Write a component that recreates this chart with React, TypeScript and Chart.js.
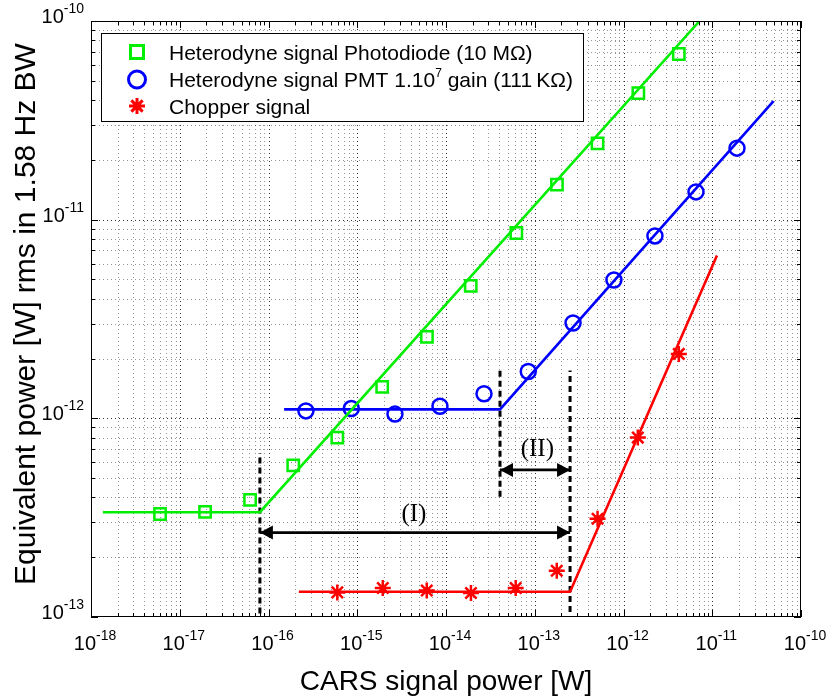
import React, { useEffect, useRef } from 'react';
import { Chart, registerables } from 'chart.js';

Chart.register(...registerables);

const CANVAS_W = 827;
const CANVAS_H = 698;

const GREEN = '#00ee00';
const BLUE = '#0000ff';
const RED = '#ff0000';
const SANS = '"Liberation Sans", Arial, Helvetica, sans-serif';
const SERIF = '"Liberation Serif", "Times New Roman", serif';

// Heterodyne detection, photodiode (10 MΩ)
const photodiodeX = [6.0e-18, 1.93e-17, 6.2e-17, 1.9e-16, 5.96e-16, 1.91e-15, 6.1e-15, 1.9e-14, 6.2e-14, 1.78e-13, 5.1e-13, 1.47e-12, 4.2e-12];
const photodiodeY = [3.3e-13, 3.38e-13, 3.89e-13, 5.8e-13, 8.0e-13, 1.44e-12, 2.57e-12, 4.64e-12, 8.57e-12, 1.5e-11, 2.42e-11, 4.33e-11, 6.82e-11];
const photodiodeFitX = [1.36e-18, 8e-17, 7.2e-12];
const photodiodeFitY = [3.37e-13, 3.37e-13, 1e-10];

// Heterodyne detection, PMT 1.10^7 gain (111 KΩ)
const pmtX = [2.64e-16, 8.57e-16, 2.66e-15, 8.55e-15, 2.68e-14, 8.45e-14, 2.7e-13, 7.8e-13, 2.26e-12, 6.56e-12, 1.9e-11];
const pmtY = [1.09e-12, 1.12e-12, 1.05e-12, 1.15e-12, 1.33e-12, 1.72e-12, 3.02e-12, 4.97e-12, 8.28e-12, 1.38e-11, 2.29e-11];
const pmtFitX = [1.5e-16, 4.06e-14, 4.9e-11];
const pmtFitY = [1.11e-12, 1.11e-12, 3.95e-11];

// Direct detection with a chopper
const chopperX = [5.96e-16, 1.94e-15, 6.07e-15, 1.91e-14, 6.1e-14, 1.77e-13, 5.1e-13, 1.45e-12, 4.2e-12];
const chopperY = [1.33e-13, 1.4e-13, 1.36e-13, 1.32e-13, 1.4e-13, 1.71e-13, 3.12e-13, 8.0e-13, 2.11e-12];
const chopperFitX = [2.2e-16, 2.5e-13, 1.13e-11];
const chopperFitY = [1.34e-13, 1.34e-13, 6.6e-12];

// Dashed markers at the detection limits
const limitX = [8e-17, 4.06e-14, 2.5e-13];
const limitLow = [1.04e-13, 4.03e-13, 1.06e-13];
const limitHigh = [6.7e-13, 1.75e-12, 1.74e-12];

// Dynamic-range arrows (I) and (II)
const rangeNames = ['(I)', '(II)'];
const rangeFrom = [8e-17, 4.06e-14];
const rangeTo = [2.5e-13, 2.5e-13];
const rangeLevel = [2.66e-13, 5.5e-13];
const rangeLabelX = [4.35e-15, 1.07e-13];
const rangeLabelY = [3.3e-13, 7.0e-13];

// Axis decades
const xDecades = [-18, -17, -16, -15, -14, -13, -12, -11, -10];
const yDecades = [-13, -12, -11, -10];

const legendLabels = [
  ['Heterodyne signal Photodiode (10 M\u03A9)'],
  ['Heterodyne signal PMT 1.10', '7', ' gain (111\u2009K\u03A9)'],
  ['Chopper signal'],
];

const xTitle = 'CARS signal power [W]';
const yTitle = 'Equivalent power [W] rms in 1.58 Hz BW';

const toPoints = (xs: number[], ys: number[]) => xs.map((x, i) => ({ x, y: ys[i] }));

function minorValues(decades: number[]) {
  const out: number[] = [];
  for (let i = 0; i < decades.length - 1; i++) {
    for (let m = 2; m <= 9; m++) out.push(m * Math.pow(10, decades[i]));
  }
  return out;
}

function drawMarker(ctx: CanvasRenderingContext2D, kind: string, x: number, y: number, r: number, color: string, lw: number) {
  ctx.save();
  ctx.strokeStyle = color;
  ctx.lineWidth = lw;
  ctx.beginPath();
  if (kind === 'rect') {
    ctx.rect(x - r, y - r, 2 * r, 2 * r);
  } else if (kind === 'circle') {
    ctx.arc(x, y, r, 0, Math.PI * 2);
  } else {
    for (let k = 0; k < 4; k++) {
      const a = (k * Math.PI) / 4;
      ctx.moveTo(x - r * Math.cos(a), y - r * Math.sin(a));
      ctx.lineTo(x + r * Math.cos(a), y + r * Math.sin(a));
    }
  }
  ctx.stroke();
  ctx.restore();
}

// "10" with a superscript exponent
function powerLabel(ctx: CanvasRenderingContext2D, exp: number, x: number, baseline: number, align: 'center' | 'right') {
  const base = '10';
  const sup = String(exp);
  ctx.font = `20px ${SANS}`;
  const wb = ctx.measureText(base).width;
  ctx.font = `14px ${SANS}`;
  const ws = ctx.measureText(sup).width;
  const total = wb + ws;
  const left = align === 'center' ? x - total / 2 : x - total;
  ctx.textAlign = 'left';
  ctx.textBaseline = 'alphabetic';
  ctx.font = `20px ${SANS}`;
  ctx.fillText(base, left, baseline);
  ctx.font = `14px ${SANS}`;
  ctx.fillText(sup, left + wb, baseline - 10);
}

const framePlugin = {
  id: 'frame',
  beforeDatasetsDraw(chart: any) {
    const { ctx, chartArea: a, scales } = chart;
    const xs = scales.x;
    const ys = scales.y;
    ctx.save();
    ctx.fillStyle = '#ffffff';
    ctx.fillRect(a.left, a.top, a.right - a.left, a.bottom - a.top);
    ctx.lineWidth = 1;
    ctx.setLineDash([1, 3]);
    const vline = (v: number) => {
      const px = Math.round(xs.getPixelForValue(v)) + 0.5;
      ctx.beginPath();
      ctx.moveTo(px, a.top);
      ctx.lineTo(px, a.bottom);
      ctx.stroke();
    };
    const hline = (v: number) => {
      const py = Math.round(ys.getPixelForValue(v)) + 0.5;
      ctx.beginPath();
      ctx.moveTo(a.left, py);
      ctx.lineTo(a.right, py);
      ctx.stroke();
    };
    ctx.strokeStyle = 'rgba(0,0,0,0.42)';
    minorValues(xDecades).forEach(vline);
    minorValues(yDecades).forEach(hline);
    ctx.strokeStyle = 'rgba(0,0,0,0.8)';
    xDecades.slice(1, -1).forEach((e) => vline(Math.pow(10, e)));
    yDecades.slice(1, -1).forEach((e) => hline(Math.pow(10, e)));
    ctx.restore();
  },
  afterDatasetsDraw(chart: any) {
    const { ctx, chartArea: a, scales } = chart;
    const xs = scales.x;
    const ys = scales.y;
    ctx.save();

    // arrowheads and range labels
    ctx.fillStyle = '#000';
    const head = (tip: number, y: number, dir: number) => {
      ctx.beginPath();
      ctx.moveTo(tip, y);
      ctx.lineTo(tip - dir * 13, y - 7);
      ctx.lineTo(tip - dir * 13, y + 7);
      ctx.closePath();
      ctx.fill();
    };
    rangeNames.forEach((name, i) => {
      const y = ys.getPixelForValue(rangeLevel[i]);
      head(xs.getPixelForValue(rangeFrom[i]), y, -1);
      head(xs.getPixelForValue(rangeTo[i]), y, 1);
      ctx.font = `25px ${SERIF}`;
      ctx.textAlign = 'center';
      ctx.textBaseline = 'middle';
      ctx.fillText(name, xs.getPixelForValue(rangeLabelX[i]), ys.getPixelForValue(rangeLabelY[i]));
    });

    // axes box
    ctx.strokeStyle = '#000';
    ctx.lineWidth = 1;
    ctx.strokeRect(a.left + 0.5, a.top + 0.5, a.right - a.left - 1, a.bottom - a.top - 1);

    // inward tick marks on all sides
    const tickX = (v: number, len: number) => {
      const px = Math.round(xs.getPixelForValue(v)) + 0.5;
      ctx.beginPath();
      ctx.moveTo(px, a.bottom);
      ctx.lineTo(px, a.bottom - len);
      ctx.moveTo(px, a.top);
      ctx.lineTo(px, a.top + len);
      ctx.stroke();
    };
    const tickY = (v: number, len: number) => {
      const py = Math.round(ys.getPixelForValue(v)) + 0.5;
      ctx.beginPath();
      ctx.moveTo(a.left, py);
      ctx.lineTo(a.left + len, py);
      ctx.moveTo(a.right, py);
      ctx.lineTo(a.right - len, py);
      ctx.stroke();
    };
    minorValues(xDecades).forEach((v) => tickX(v, 4));
    minorValues(yDecades).forEach((v) => tickY(v, 4));
    xDecades.forEach((e) => tickX(Math.pow(10, e), 7));
    yDecades.forEach((e) => tickY(Math.pow(10, e), 7));

    // tick labels
    ctx.fillStyle = '#000';
    xDecades.forEach((e) => powerLabel(ctx, e, xs.getPixelForValue(Math.pow(10, e)) + 4, a.bottom + 33, 'center'));
    yDecades.forEach((e) => powerLabel(ctx, e, a.left - 7, ys.getPixelForValue(Math.pow(10, e)) + 2, 'right'));

    // axis titles
    ctx.textAlign = 'center';
    ctx.textBaseline = 'alphabetic';
    ctx.font = `28px ${SANS}`;
    ctx.fillText(xTitle, 446, 690);
    ctx.save();
    ctx.font = `30px ${SANS}`;
    ctx.translate(35, 314);
    ctx.rotate(-Math.PI / 2);
    ctx.fillText(yTitle, 0, 0);
    ctx.restore();

    // legend
    const bx = 101, by = 33, bw = 482, bh = 88;
    ctx.fillStyle = '#fff';
    ctx.fillRect(bx, by, bw, bh);
    ctx.strokeStyle = '#000';
    ctx.lineWidth = 1;
    ctx.strokeRect(bx + 0.5, by + 0.5, bw, bh);
    const rows = [52, 79.5, 106];
    drawMarker(ctx, 'rect', 137, rows[0], 6.5, GREEN, 3);
    drawMarker(ctx, 'circle', 137, rows[1], 8.5, BLUE, 3);
    drawMarker(ctx, 'star', 137, rows[2], 8, RED, 3);
    ctx.fillStyle = '#000';
    ctx.textAlign = 'left';
    ctx.textBaseline = 'alphabetic';
    legendLabels.forEach((parts, i) => {
      let x = 169;
      const base = rows[i] + 7.5;
      parts.forEach((p, k) => {
        const sup = parts.length > 1 && k === 1;
        ctx.font = sup ? `12px ${SANS}` : `21px ${SANS}`;
        ctx.fillText(p, x, sup ? base - 10 : base);
        x += ctx.measureText(p).width;
      });
    });

    ctx.restore();
  },
};

export default function App() {
  const canvasRef = useRef<HTMLCanvasElement | null>(null);

  useEffect(() => {
    const canvas = canvasRef.current;
    if (!canvas) return;

    const fit = (xs: number[], ys: number[], color: string) => ({
      data: toPoints(xs, ys),
      borderColor: color,
      borderWidth: 2.6,
      pointRadius: 0,
      showLine: true,
      fill: false,
      tension: 0,
    });
    const marks = (xs: number[], ys: number[], color: string, style: string, r: number) => ({
      data: toPoints(xs, ys),
      showLine: false,
      pointStyle: style,
      pointRadius: r,
      pointBorderWidth: 2.5,
      pointBorderColor: color,
      pointBackgroundColor: 'rgba(0,0,0,0)',
      borderColor: color,
    });
    const limits = limitX.map((x, i) => ({
      data: toPoints([x, x], [limitLow[i], limitHigh[i]]),
      borderColor: '#000',
      borderWidth: 3,
      borderDash: [6, 4],
      borderCapStyle: 'butt',
      pointRadius: 0,
      showLine: true,
    }));
    const arrows = rangeNames.map((_, i) => ({
      data: toPoints([rangeFrom[i], rangeTo[i]], [rangeLevel[i], rangeLevel[i]]),
      borderColor: '#000',
      borderWidth: 2.6,
      pointRadius: 0,
      showLine: true,
    }));

    const chart = new Chart(canvas, {
      type: 'line',
      data: {
        datasets: [
          fit(photodiodeFitX, photodiodeFitY, GREEN),
          fit(pmtFitX, pmtFitY, BLUE),
          fit(chopperFitX, chopperFitY, RED),
          marks(photodiodeX, photodiodeY, GREEN, 'rect', 8),
          marks(pmtX, pmtY, BLUE, 'circle', 7.5),
          marks(chopperX, chopperY, RED, 'star', 8),
          ...limits,
          ...arrows,
        ] as any,
      },
      options: {
        responsive: false,
        maintainAspectRatio: false,
        animation: false,
        events: [],
        layout: { padding: { left: 91, top: 21, right: CANVAS_W - 801, bottom: CANVAS_H - 617 } },
        plugins: { legend: { display: false }, tooltip: { enabled: false } },
        scales: {
          x: {
            type: 'logarithmic',
            min: 1e-18,
            max: 1e-10,
            display: false,
            afterBuildTicks: (s: any) => {
              s.ticks = xDecades.map((e) => ({ value: Math.pow(10, e) }));
            },
          },
          y: {
            type: 'logarithmic',
            min: 1e-13,
            max: 1e-10,
            display: false,
            afterBuildTicks: (s: any) => {
              s.ticks = yDecades.map((e) => ({ value: Math.pow(10, e) }));
            },
          },
        },
      } as any,
      plugins: [framePlugin],
    });

    return () => chart.destroy();
  }, []);

  return (
    <div style={{ position: 'fixed', left: 0, top: 0, width: CANVAS_W, height: CANVAS_H, background: '#fff' }}>
      <canvas ref={canvasRef} width={CANVAS_W} height={CANVAS_H} style={{ display: 'block', width: CANVAS_W, height: CANVAS_H }} />
    </div>
  );
}
